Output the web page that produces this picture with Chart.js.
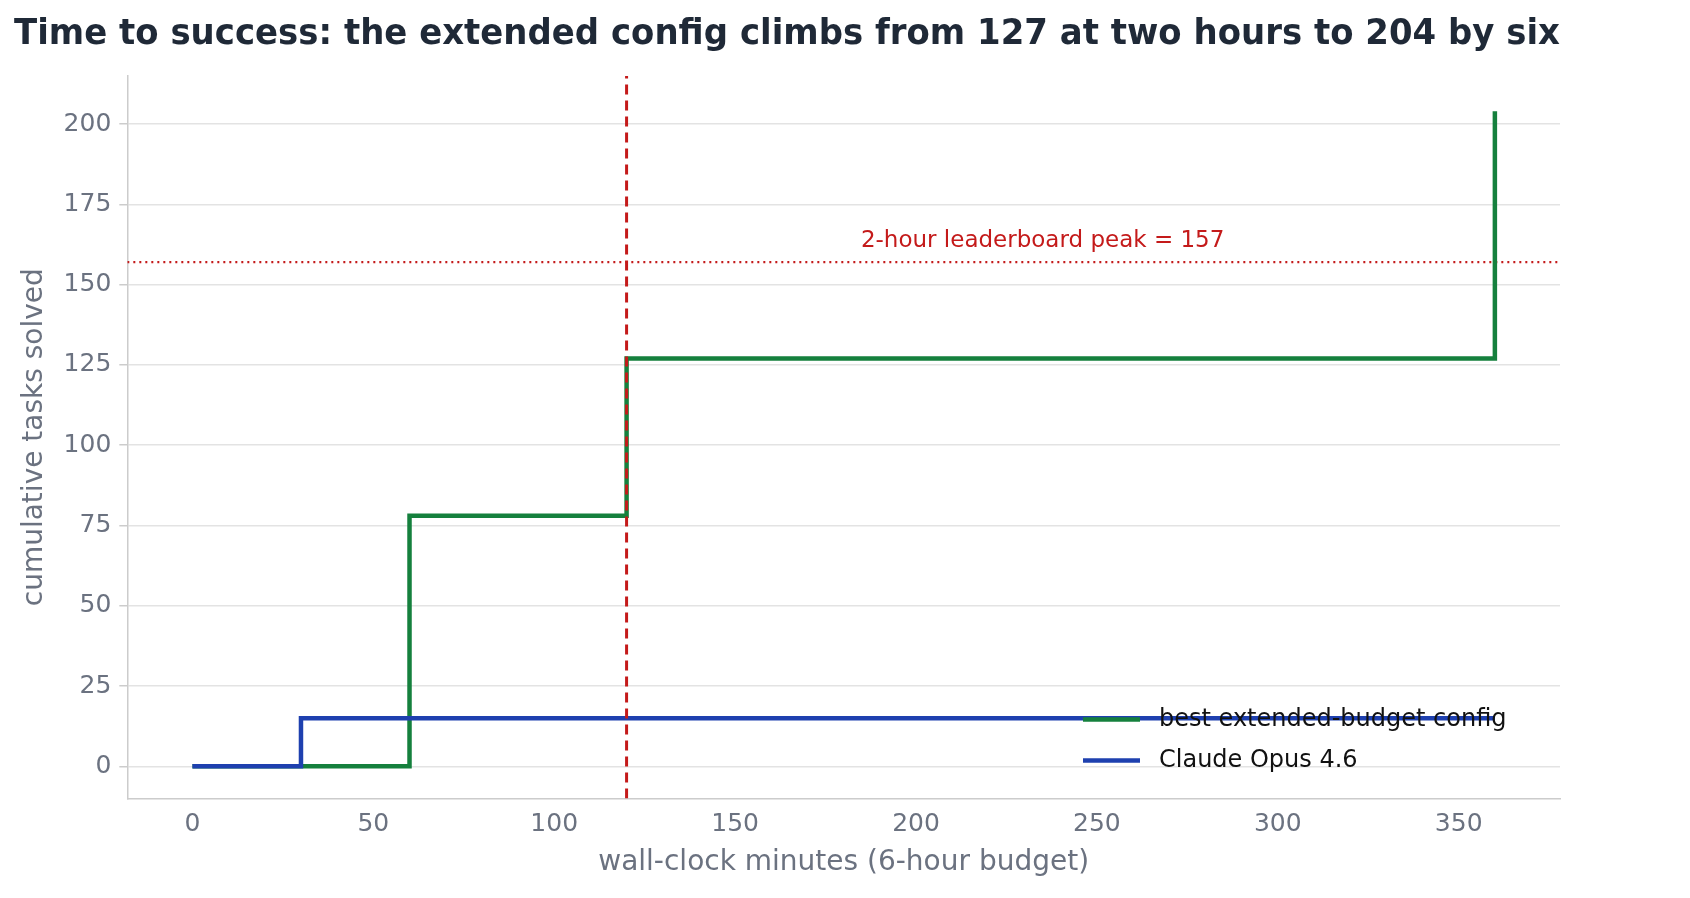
<!DOCTYPE html>
<html><head><meta charset="utf-8">
<script src="https://cdn.jsdelivr.net/npm/chart.js@4/dist/chart.umd.min.js"></script>
<style>html,body{margin:0;background:#fff}#w{width:1690px;height:898px}</style>
</head><body><div id="w"><canvas id="c"></canvas></div>
<script>
const titleText = "Time to success: the extended config climbs from 127 at two hours to 204 by six";
const extendedX = [0, 60, 120, 360];
const extendedY = [0, 78, 127, 204];
const opusX = [0, 30, 360];
const opusY = [0, 15, 15];
const cutoffMinutes = 120;
const peakValue = 157;
const peakLabel = "2-hour leaderboard peak = 157";
const seriesNames = ["best extended-budget config", "Claude Opus 4.6"];
const green = "#15803d", blue = "#1e40af", red = "#c41a1a";
const F = "DejaVu Sans";
const pts = (xs, ys) => xs.map((x, i) => ({x, y: ys[i]}));

const overlay = {
  id: 'overlay',
  afterDatasetsDraw(chart) {
    const {ctx, chartArea: a, scales: {x, y}} = chart;
    ctx.save();
    ctx.font = "23px " + F; ctx.fillStyle = red; ctx.textAlign = "center"; ctx.textBaseline = "bottom";
    ctx.fillText(peakLabel, x.getPixelForValue(235), y.getPixelForValue(peakValue) - 10);
    const lx = a.right - 477, ys = [a.bottom - 79, a.bottom - 38];
    [[green, seriesNames[0]], [blue, seriesNames[1]]].forEach(([c, t], i) => {
      ctx.strokeStyle = c; ctx.lineWidth = 4.5; ctx.beginPath();
      ctx.moveTo(lx, ys[i]); ctx.lineTo(lx + 57, ys[i]); ctx.stroke();
      ctx.fillStyle = "#111"; ctx.textAlign = "left"; ctx.textBaseline = "middle";
      ctx.font = "24px " + F; ctx.fillText(t, lx + 76, ys[i]);
    });
    ctx.restore();
  }
};

new Chart(document.getElementById('c'), {
  type: 'line',
  data: { datasets: [
    {data: [{x: -18, y: peakValue}, {x: 378, y: peakValue}], borderColor: red, borderWidth: 2.2, borderDash: [2, 4], pointRadius: 0, order: 4},
    {data: pts(extendedX, extendedY), stepped: 'before', borderColor: green, borderWidth: 4.5, pointRadius: 0, order: 3},
    {data: pts(opusX, opusY), stepped: 'before', borderColor: blue, borderWidth: 4.5, pointRadius: 0, order: 2},
    {data: [{x: cutoffMinutes, y: -10}, {x: cutoffMinutes, y: 215}], borderColor: red, borderWidth: 3, borderDash: [10, 6], pointRadius: 0, order: 1}
  ]},
  plugins: [overlay],
  options: {
    responsive: true, maintainAspectRatio: false, animation: false,
    layout: {padding: {left: 14, right: 130, top: 0, bottom: 14}},
    plugins: {
      legend: {display: false}, tooltip: {enabled: false},
      title: {display: true, text: titleText, color: "#1f2937", font: {family: F, size: 35, weight: 'bold'}, padding: {top: 14, bottom: 20}, align: 'center'}
    },
    scales: {
      x: {type: 'linear', min: -18, max: 378,
        afterBuildTicks: ax => { ax.ticks = [0,50,100,150,200,250,300,350].map(v => ({value: v})); },
        ticks: {color: "#6b7280", font: {family: F, size: 25}},
        grid: {display: false}, border: {color: "#ccc", width: 1.5},
        title: {display: true, text: "wall-clock minutes (6-hour budget)", color: "#6b7280", font: {family: F, size: 28}}},
      y: {min: -10, max: 215,
        afterBuildTicks: ax => { ax.ticks = [0,25,50,75,100,125,150,175,200].map(v => ({value: v})); },
        ticks: {color: "#6b7280", font: {family: F, size: 25}, padding: 8},
        grid: {color: "#e3e3e3", lineWidth: 1.5, drawTicks: true, tickLength: 8, tickColor: "#ccc"}, border: {color: "#ccc", width: 1.5},
        title: {display: true, text: "cumulative tasks solved", color: "#6b7280", font: {family: F, size: 28}}}
    }
  }
});
</script></body></html>
